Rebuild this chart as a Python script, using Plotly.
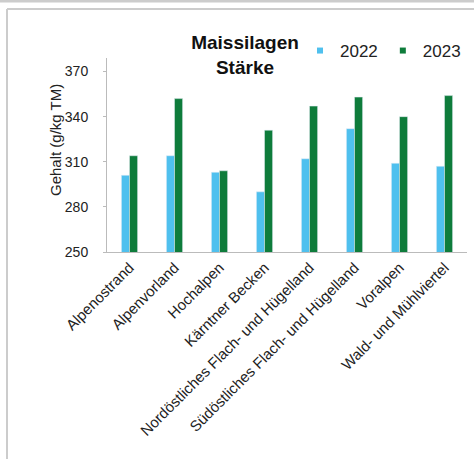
import plotly.graph_objects as go

categories = ["Alpenostrand", "Alpenvorland", "Hochalpen", "Kärntner Becken",
              "Nordöstliches Flach- und Hügelland", "Südöstliches Flach- und Hügelland",
              "Voralpen", "Wald- und Mühlviertel"]
values_2022 = [301, 314, 303, 290, 312, 332, 309, 307]
values_2023 = [314, 352, 304, 331, 347, 353, 340, 354]
tick_vals = [250, 280, 310, 340, 370]
series_names = ["2022", "2023"]
colors = ["#4FC0EE", "#0E7C3B"]

fig = go.Figure()
for name, vals, col in zip(series_names, [values_2022, values_2023], colors):
    fig.add_trace(go.Bar(x=categories, y=vals, name=name, marker_color=col, showlegend=False))
# legend entries with small square markers
for name, col in zip(series_names, colors):
    fig.add_trace(go.Scatter(x=[None], y=[None], mode="markers", name=name,
                             marker=dict(symbol="square", size=6, color=col)))

W, H = 474, 459
L, R, T, B = 107, 7, 58, 207
pw, ph = W - L - R, H - T - B

def px(x):
    return (x - L) / pw

def py(y):
    return (H - B - y) / ph

fig.update_layout(
    width=W, height=H,
    margin=dict(l=L, r=R, t=T, b=B, autoexpand=False),
    paper_bgcolor="white", plot_bgcolor="white",
    barmode="group", bargap=0.64, bargroupgap=0,
    font=dict(family="Liberation Sans, Arial", color="#222222"),
    title=dict(text="<b>Maissilagen<br>Stärke</b>", xref="container", x=245 / W, xanchor="center",
               yref="container", y=1 - 49 / H, yanchor="middle",
               font=dict(size=19, color="#111111")),
    legend=dict(orientation="h", x=px(300), y=py(51), xanchor="left", yanchor="middle",
                font=dict(size=17, color="#222222"), itemwidth=30,
                bgcolor="rgba(0,0,0,0)"),
    xaxis=dict(tickangle=-45, tickfont=dict(size=15, color="#222222"),
               showline=True, linecolor="#BBBBBB", linewidth=1, ticks=""),
    yaxis=dict(range=[250, 379], tickvals=tick_vals, showgrid=False, zeroline=False,
               showline=True, linecolor="#BBBBBB", linewidth=1,
               ticks="outside", ticklen=3, tickcolor="#BBBBBB", ticklabelstandoff=12,
               tickfont=dict(size=14, color="#222222")),
    annotations=[
        dict(text="Gehalt (g/kg TM)", textangle=-90, xref="paper", yref="paper",
             x=px(55), y=py(140), xanchor="center", yanchor="middle", showarrow=False,
             font=dict(size=15, color="#222222")),
    ],
    shapes=[
        dict(type="line", xref="paper", yref="paper", x0=px(0), x1=px(W), y0=py(1), y1=py(1),
             line=dict(color="#CCCCCC", width=3)),
        dict(type="line", xref="paper", yref="paper", x0=px(7), x1=px(W), y0=py(9), y1=py(9),
             line=dict(color="#CCCCCC", width=2)),
        dict(type="line", xref="paper", yref="paper", x0=px(7), x1=px(7), y0=py(9), y1=py(H),
             line=dict(color="#CCCCCC", width=2)),
    ],
)

fig.write_html("out.html", config={"displayModeBar": False},
               post_script="document.body.style.margin='0';")
